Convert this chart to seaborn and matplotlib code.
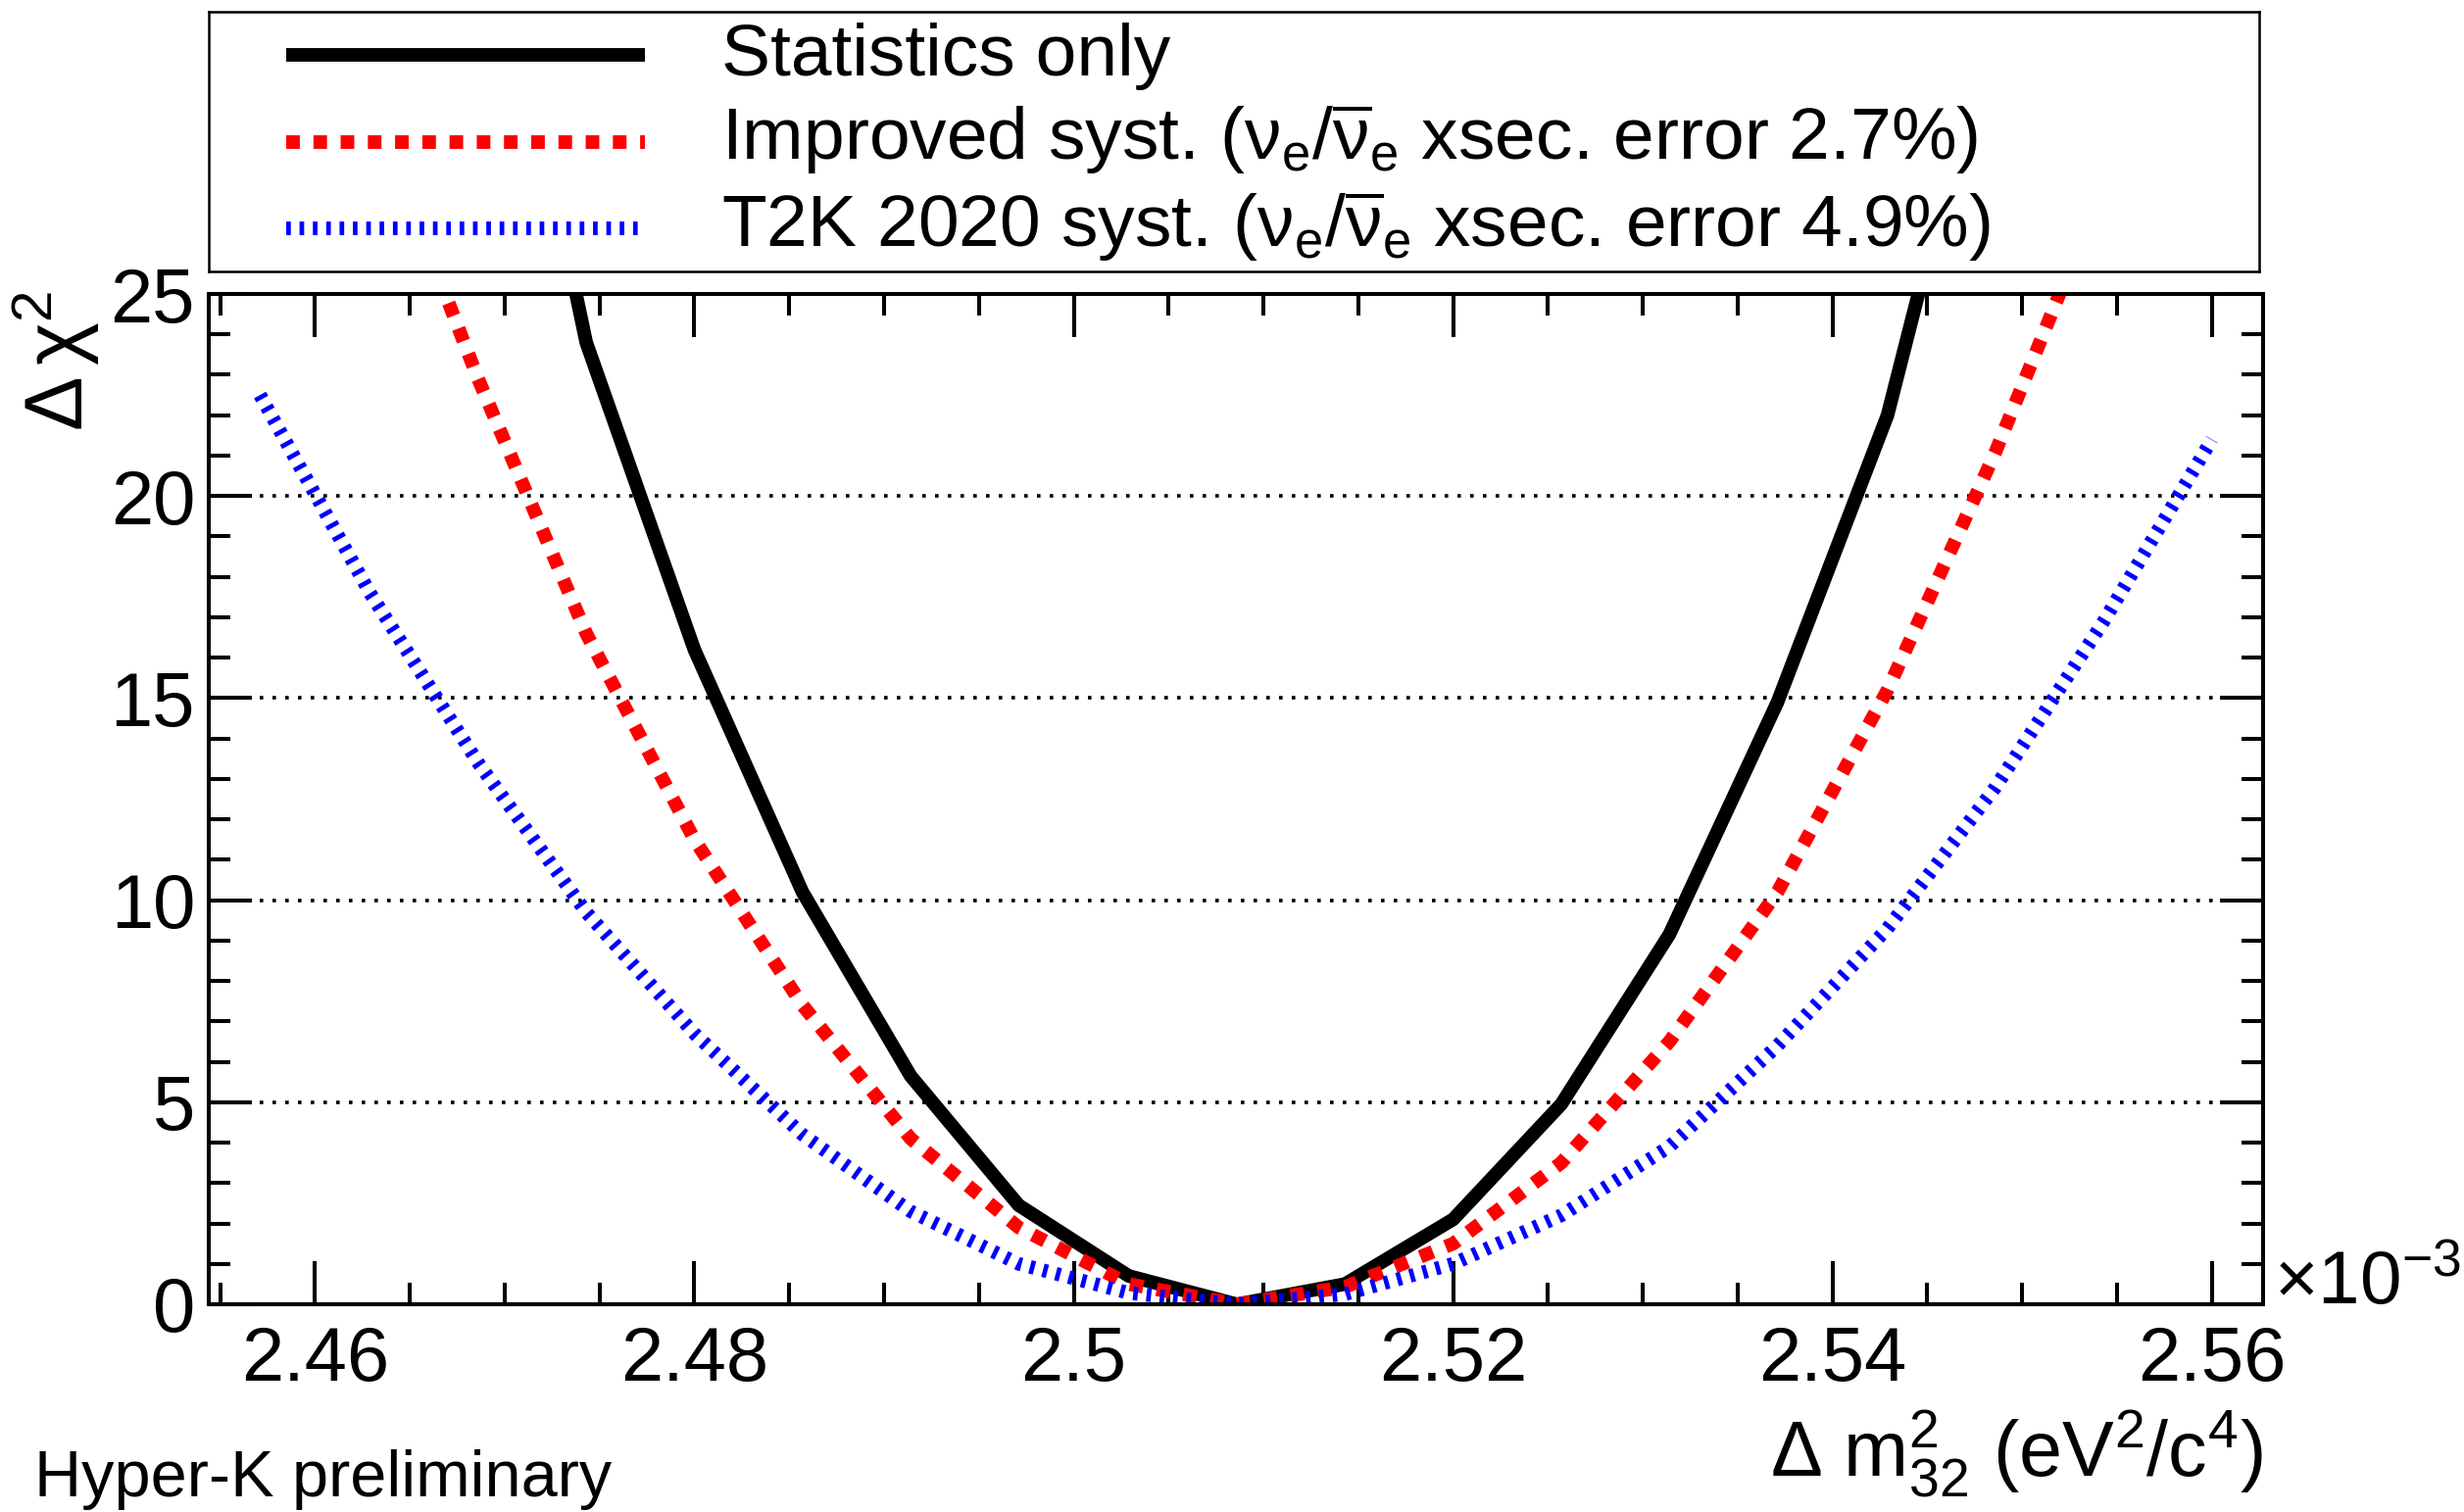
import matplotlib
matplotlib.use("Agg")
import matplotlib.pyplot as plt
from matplotlib.ticker import MultipleLocator, FuncFormatter
import seaborn as sns
import pandas as pd

# Delta m^2_32 grid points, in units of 1e-3 eV^2/c^4
dm2 = [2.4571, 2.4629, 2.4686, 2.4743, 2.4800, 2.4857, 2.4914, 2.4971, 2.5029, 2.5086,
       2.5143, 2.5200, 2.5257, 2.5314, 2.5371, 2.5429, 2.5486, 2.5543, 2.5600]

series_names = [
    "Statistics only",
    r"Improved syst. ($\mathregular{ν_e/\overline{ν}_e}$ xsec. error 2.7%)",
    r"T2K 2020 syst. ($\mathregular{ν_e/\overline{ν}_e}$ xsec. error 4.9%)",
]
series_colors = ["black", "red", "blue"]

# delta chi2 curves (first grid index where each curve starts)
stat_only_start = 2
stat_only = [36.5, 23.8, 16.2, 10.2, 5.65, 2.45, 0.7, 0.0, 0.5, 2.1, 4.95, 9.15, 14.9, 22.0, 32.5]
improved_start = 1
improved = [29.8, 22.9, 16.6, 11.5, 7.4, 4.1, 1.9, 0.5, 0.0, 0.43, 1.5, 3.5, 6.5, 10.2, 15.2, 21.1, 27.7]
t2k2020_start = 0
t2k2020 = [22.5, 17.6, 13.4, 9.7, 6.7, 4.2, 2.3, 1.0, 0.28, 0.0, 0.25, 1.0, 2.2, 3.9, 6.4, 9.3, 12.8, 16.9, 21.4]

y_ticks = [0, 5, 10, 15, 20, 25]

sns.set_style("ticks")
plt.rcParams["font.family"] = ["Liberation Sans", "DejaVu Sans"]
plt.rcParams["mathtext.fontset"] = "custom"
plt.rcParams["mathtext.rm"] = "Liberation Sans"
plt.rcParams["mathtext.it"] = "Liberation Sans:italic"
plt.rcParams["mathtext.bf"] = "Liberation Sans:bold"
plt.rcParams["text.color"] = "black"
plt.rcParams["axes.labelcolor"] = "black"
plt.rcParams["xtick.color"] = "black"
plt.rcParams["ytick.color"] = "black"

frames = []
for name, start, vals in zip(series_names,
                             [stat_only_start, improved_start, t2k2020_start],
                             [stat_only, improved, t2k2020]):
    frames.append(pd.DataFrame({"dm2": dm2[start:start + len(vals)], "dchi2": vals, "series": name}))
df = pd.concat(frames, ignore_index=True)

line_widths = [10, 10, 10]
dash_styles = ["", (1.0, 1.0), (0.34, 0.64)]

W, H = 2514, 1543
fig = plt.figure(figsize=(W / 100, H / 100), dpi=100)
ax = fig.add_axes([213 / W, 1 - 1331 / H, (2309 - 213) / W, (1331 - 300) / H])

sns.lineplot(data=df, x="dm2", y="dchi2", hue="series", style="series", size="series",
             hue_order=series_names, style_order=series_names, size_order=series_names,
             palette=dict(zip(series_names, series_colors)),
             dashes=dict(zip(series_names, dash_styles)),
             sizes=dict(zip(series_names, line_widths)),
             estimator=None, legend=False, ax=ax)

ax.set_xlim(2.4544, 2.5627)
ax.set_ylim(0, 25)
ax.xaxis.set_major_locator(MultipleLocator(0.02))
ax.xaxis.set_minor_locator(MultipleLocator(0.005))
ax.set_yticks(y_ticks)
ax.yaxis.set_minor_locator(MultipleLocator(1))
ax.xaxis.set_major_formatter(FuncFormatter(lambda v, p: "%g" % round(v, 3)))

ax.tick_params(which="both", direction="in", top=True, right=True, width=2.9,
               color="black", labelcolor="black", labelsize=56)
ax.tick_params(which="major", length=32)
ax.tick_params(which="minor", length=16)
ax.tick_params(axis="x", which="major", pad=15)
ax.tick_params(axis="y", which="major", pad=10)
for sp in ax.spines.values():
    sp.set_linewidth(2.9)
    sp.set_color("black")

ax.grid(axis="y", which="major", color="black", linestyle=(0, (1.0, 2.6)), linewidth=2.6)
ax.set_axisbelow(True)

ax.set_xlabel(r"$\mathregular{Δ\ m^{2}_{32}\ (eV^{2}/c^{4})}$", fontsize=57, loc="right")
ax.xaxis.set_label_coords(1.0, -0.102)
ax.set_ylabel(r"$\mathregular{Δ\,χ^{2}}$", fontsize=60, loc="top")
ax.yaxis.set_label_coords(-0.052, 1.003)

ax.text(1.0053, 0.0, r"$\mathregular{×10^{-3}}$", transform=ax.transAxes,
        fontsize=55, ha="left", va="baseline")

fig.text(35 / W, 1 - 1527 / H, "Hyper-K preliminary", fontsize=48, ha="left", va="baseline")

# legend box
lx0, lx1, ly0, ly1 = 213, 2305, 12, 277
lax = fig.add_axes([lx0 / W, 1 - ly1 / H, (lx1 - lx0) / W, (ly1 - ly0) / H])
lax.set_xlim(lx0, lx1)
lax.set_ylim(ly1, ly0)
lax.set_xticks([])
lax.set_yticks([])
for sp in lax.spines.values():
    sp.set_linewidth(1.8)
    sp.set_color("black")

row_centers = [56, 145, 233]
row_baselines = [77, 163, 252]
for name, color, lw, ds, yc, yb in zip(series_names, series_colors, line_widths,
                                       dash_styles, row_centers, row_baselines):
    ln, = lax.plot([292, 658], [yc, yc], color=color, lw=lw, solid_capstyle="butt")
    if ds:
        ln.set_dashes(ds)
    lax.text(736, yb, name, fontsize=54, ha="left", va="baseline")

fig.savefig("out.png", dpi=100)
